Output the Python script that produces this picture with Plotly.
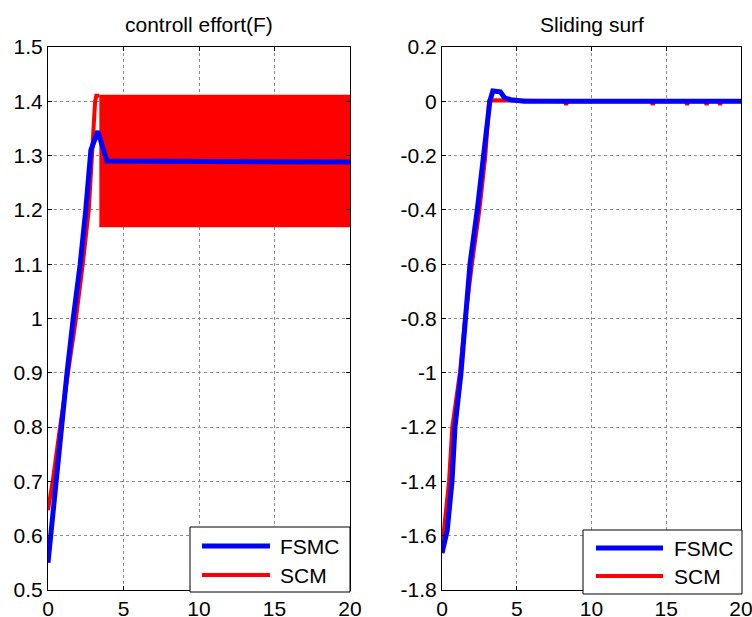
import plotly.graph_objects as go

# ---------------- data ----------------
# Left panel: control effort F
fsmc_F_t = [0, 0.18, 0.53, 0.84, 1.26, 1.67, 2.13, 2.5, 2.84, 3.3, 3.9, 20]
fsmc_F_v = [0.55, 0.6, 0.7, 0.8, 0.9, 1.0, 1.1, 1.2, 1.31, 1.345, 1.29, 1.288]

scm_F_t = [0, 0.31, 0.8, 1.35, 1.85, 2.3, 2.7, 3.12, 3.2, 3.4]
scm_F_v = [0.647, 0.7, 0.8, 0.9, 1.0, 1.1, 1.2, 1.40, 1.41, 1.41]

# SCM chattering envelope (t >= 3.4)
scm_band_t = [3.4, 20]
scm_band_hi = [1.41, 1.41]
scm_band_lo = [1.17, 1.17]

# Right panel: sliding surface
fsmc_S_t = [0, 0.35, 0.67, 0.87, 1.27, 1.58, 1.87, 2.36, 2.81, 3.2, 3.4, 3.9, 4.2, 4.6, 5.5, 20]
fsmc_S_v = [-1.664, -1.58, -1.4, -1.2, -1.0, -0.8, -0.6, -0.4, -0.2, 0.0, 0.038, 0.035, 0.012, 0.006, 0.0, 0.0]

scm_S_t = [0, 0.09, 0.47, 0.69, 1.2, 1.55, 2.0, 2.5, 2.9, 3.15, 3.4, 4.5, 5.0,
           8.2, 8.3, 8.4, 14.0, 14.1, 14.2, 16.3, 16.4, 16.5, 17.6, 17.7, 17.8, 18.5, 18.6, 18.7, 20]
scm_S_v = [-1.627, -1.6, -1.4, -1.2, -1.0, -0.8, -0.6, -0.4, -0.2, 0.0, 0.004, 0.003, 0.0,
           0.0, -0.012, 0.0, 0.0, -0.012, 0.0, 0.0, -0.012, 0.0, 0.0, -0.012, 0.0, 0.0, -0.012, 0.0, 0.0]

# axes ticks
x_ticks = [0, 5, 10, 15, 20]
yL_ticks = [0.5, 0.6, 0.7, 0.8, 0.9, 1.0, 1.1, 1.2, 1.3, 1.4, 1.5]
yL_labels = ["0.5", "0.6", "0.7", "0.8", "0.9", "1", "1.1", "1.2", "1.3", "1.4", "1.5"]
yR_ticks = [-1.8, -1.6, -1.4, -1.2, -1.0, -0.8, -0.6, -0.4, -0.2, 0.0, 0.2]
yR_labels = ["-1.8", "-1.6", "-1.4", "-1.2", "-1", "-0.8", "-0.6", "-0.4", "-0.2", "0", "0.2"]

titles = ["controll effort(F)", "Sliding surf"]
legend_names = ["FSMC", "SCM"]

# ---------------- figure ----------------
W, H = 752, 617
BLUE = "#0000FF"
RED = "#FF0000"
FONT = "Liberation Sans, Arial, sans-serif"
FS = 21

fig = go.Figure()

# left panel
fig.add_trace(go.Scatter(x=scm_band_t + scm_band_t[::-1], y=scm_band_hi + scm_band_lo[::-1],
                         fill="toself", fillcolor=RED, mode="lines",
                         line=dict(color=RED, width=2), showlegend=False,
                         xaxis="x", yaxis="y", hoverinfo="skip"))
fig.add_trace(go.Scatter(x=scm_F_t, y=scm_F_v, mode="lines", name=legend_names[1],
                         line=dict(color=RED, width=4), showlegend=False, xaxis="x", yaxis="y"))
fig.add_trace(go.Scatter(x=fsmc_F_t, y=fsmc_F_v, mode="lines", name=legend_names[0],
                         line=dict(color=BLUE, width=5), showlegend=False, xaxis="x", yaxis="y"))

# right panel
fig.add_trace(go.Scatter(x=scm_S_t, y=scm_S_v, mode="lines", name=legend_names[1],
                         line=dict(color=RED, width=4), showlegend=False, xaxis="x2", yaxis="y2"))
fig.add_trace(go.Scatter(x=fsmc_S_t, y=fsmc_S_v, mode="lines", name=legend_names[0],
                         line=dict(color=BLUE, width=5), showlegend=False, xaxis="x2", yaxis="y2"))


def px_x(p):
    return p / W


def px_y(p):
    return 1 - p / H


xdomL = [px_x(48), px_x(350)]
xdomR = [px_x(442), px_x(741)]
ydom = [px_y(590), px_y(47)]

axis_common = dict(showline=True, linecolor="black", linewidth=1, mirror="ticks",
                   ticks="inside", ticklen=4, tickcolor="black", automargin=False,
                   showgrid=True, gridcolor="#8c8c8c", gridwidth=1, griddash="dot",
                   zeroline=False, tickfont=dict(family=FONT, size=FS, color="black"))
xaxis_extra = dict(ticklabeloverflow="allow", ticklabelstandoff=0)

fig.update_layout(
    template="none",
    width=W, height=H, margin=dict(l=0, r=0, t=0, b=0, pad=0),
    paper_bgcolor="white", plot_bgcolor="white", showlegend=False,
    xaxis=dict(domain=xdomL, range=[0, 20], tickvals=x_ticks, anchor="y",
               **axis_common, **xaxis_extra),
    yaxis=dict(domain=ydom, range=[0.5, 1.5], tickvals=yL_ticks, ticktext=yL_labels,
               anchor="x", **axis_common),
    xaxis2=dict(domain=xdomR, range=[0, 20], tickvals=x_ticks, anchor="y2",
                **axis_common, **xaxis_extra),
    yaxis2=dict(domain=ydom, range=[-1.8, 0.2], tickvals=yR_ticks, ticktext=yR_labels,
                anchor="x2", **axis_common),
)

# titles
for i, (xr, yr) in enumerate([("x domain", "y domain"), ("x2 domain", "y2 domain")]):
    fig.add_annotation(text=titles[i], xref=xr, yref=yr, x=0.5, y=1, xanchor="center",
                       yanchor="bottom", yshift=9, showarrow=False,
                       font=dict(family=FONT, size=FS, color="black"))

# manual legends (box + line samples + labels), pixel-placed
legends = [
    dict(box=(190, 527, 350, 592), line_x=(202, 270), text_x=278, rows=(546, 575)),
    dict(box=(583, 530, 742, 594), line_x=(596, 663), text_x=672, rows=(548, 576)),
]
for lg in legends:
    x0, y0, x1, y1 = lg["box"]
    fig.add_shape(type="rect", xref="paper", yref="paper",
                  x0=px_x(x0), x1=px_x(x1), y0=px_y(y1), y1=px_y(y0),
                  line=dict(color="black", width=1), fillcolor="white", layer="above")
    for name, color, row in zip(legend_names, [BLUE, RED], lg["rows"]):
        fig.add_shape(type="line", xref="paper", yref="paper",
                      x0=px_x(lg["line_x"][0]), x1=px_x(lg["line_x"][1]),
                      y0=px_y(row), y1=px_y(row),
                      line=dict(color=color, width=5 if color == BLUE else 4), layer="above")
        fig.add_annotation(text=name, xref="paper", yref="paper", x=px_x(lg["text_x"]),
                           y=px_y(row), xanchor="left", yanchor="middle", showarrow=False,
                           font=dict(family=FONT, size=FS, color="black"))

fig.write_html("out.html")
